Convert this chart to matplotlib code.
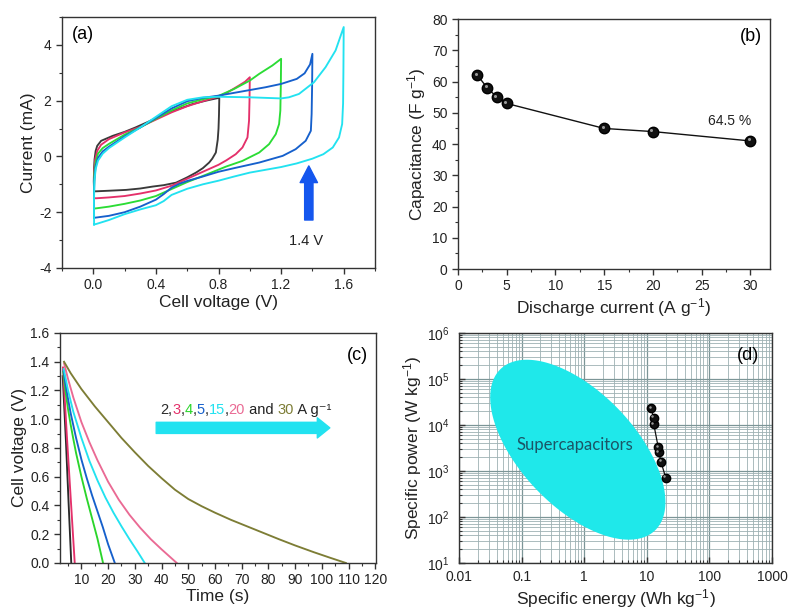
import numpy as np
import matplotlib
matplotlib.use('Agg')
import matplotlib.pyplot as plt
from matplotlib.ticker import MultipleLocator, LogLocator, NullFormatter
from matplotlib.transforms import offset_copy

plt.rcParams['font.family'] = ['Liberation Sans', 'DejaVu Sans']
plt.rcParams['mathtext.fontset'] = 'custom'
plt.rcParams['mathtext.rm'] = 'Liberation Sans'
plt.rcParams['mathtext.it'] = 'Liberation Sans:italic'
plt.rcParams['mathtext.default'] = 'regular'
plt.rcParams['axes.unicode_minus'] = False

# ---- (a) CV loops, one per voltage window ----
cv08_v = [0.005, 0.003, 0.005, 0.008, 0.015, 0.025, 0.05, 0.125, 0.2, 0.27, 0.35, 0.42, 0.486, 0.56, 0.635, 0.72, 0.794, 0.805,
          0.803, 0.8, 0.795, 0.783, 0.76, 0.74, 0.70, 0.656, 0.6, 0.529, 0.45, 0.38, 0.3, 0.21, 0.1, 0.02, 0.005]
cv08_i = [-1.25, -0.9, -0.4, -0.1, 0.2, 0.38, 0.56, 0.74, 0.88, 1.04, 1.24, 1.42, 1.58, 1.73, 1.88, 2.0, 2.09, 2.09,
          1.5, 1.0, 0.6, 0.14, -0.08, -0.22, -0.42, -0.58, -0.75, -0.94, -1.03, -1.08, -1.15, -1.2, -1.23, -1.25, -1.25]

cv10_v = [0.005, 0.004, 0.006, 0.012, 0.025, 0.05, 0.1, 0.2, 0.3, 0.4, 0.5, 0.6, 0.7, 0.8, 0.85, 0.93, 0.97, 1.0,
          0.998, 0.995, 0.985, 0.953, 0.91, 0.85, 0.8, 0.7, 0.6, 0.5, 0.4, 0.3, 0.2, 0.1, 0.02, 0.005]
cv10_i = [-1.5, -1.0, -0.5, -0.1, 0.2, 0.42, 0.62, 0.86, 1.06, 1.32, 1.58, 1.8, 1.98, 2.15, 2.27, 2.54, 2.68, 2.84,
          2.0, 1.28, 0.68, 0.32, 0.08, -0.14, -0.3, -0.55, -0.8, -1.05, -1.22, -1.33, -1.42, -1.47, -1.5, -1.5]

cv12_v = [0.005, 0.004, 0.007, 0.015, 0.03, 0.06, 0.1, 0.2, 0.3, 0.4, 0.5, 0.6, 0.7, 0.8, 0.9, 1.0, 1.06, 1.144, 1.2,
          1.198, 1.195, 1.187, 1.166, 1.123, 1.06, 0.953, 0.85, 0.7, 0.6, 0.5, 0.4, 0.3, 0.2, 0.1, 0.02, 0.005]
cv12_i = [-1.87, -1.2, -0.6, -0.2, 0.1, 0.3, 0.45, 0.78, 1.04, 1.35, 1.65, 1.9, 2.05, 2.17, 2.42, 2.72, 2.96, 3.26, 3.5,
          2.5, 1.64, 1.16, 0.8, 0.44, 0.14, -0.16, -0.36, -0.7, -0.92, -1.17, -1.42, -1.58, -1.7, -1.8, -1.86, -1.87]

cv14_v = [0.005, 0.004, 0.007, 0.015, 0.03, 0.06, 0.1, 0.2, 0.3, 0.4, 0.5, 0.6, 0.7, 0.8, 0.9, 1.0, 1.1, 1.2, 1.3, 1.35, 1.385, 1.4,
          1.398, 1.395, 1.39, 1.357, 1.293, 1.21, 1.06, 0.9, 0.8, 0.7, 0.6, 0.55, 0.5, 0.45, 0.4, 0.3, 0.2, 0.1, 0.02, 0.005]
cv14_i = [-2.2, -1.5, -0.8, -0.35, -0.05, 0.18, 0.35, 0.72, 1.04, 1.38, 1.72, 1.98, 2.1, 2.18, 2.28, 2.38, 2.48, 2.6, 2.78, 2.98, 3.3, 3.68,
          2.5, 1.52, 0.92, 0.56, 0.26, 0.02, -0.22, -0.42, -0.55, -0.72, -0.88, -0.98, -1.12, -1.35, -1.55, -1.8, -2.0, -2.13, -2.19, -2.2]

cv16_v = [0.005, 0.004, 0.007, 0.015, 0.03, 0.06, 0.1, 0.2, 0.3, 0.4, 0.5, 0.6, 0.7, 0.8, 0.9, 1.0, 1.1, 1.2, 1.25, 1.314, 1.41, 1.484, 1.548, 1.6,
          1.598, 1.596, 1.59, 1.57, 1.53, 1.47, 1.4, 1.3, 1.2, 1.0, 0.9, 0.8, 0.7, 0.6, 0.5, 0.45, 0.4, 0.3, 0.2, 0.1, 0.02, 0.005]
cv16_i = [-2.44, -1.6, -0.9, -0.45, -0.15, 0.1, 0.3, 0.68, 1.04, 1.42, 1.8, 2.03, 2.12, 2.14, 2.13, 2.12, 2.1, 2.08, 2.12, 2.24, 2.66, 3.2, 3.8, 4.64,
          3.0, 1.9, 1.16, 0.68, 0.32, 0.08, -0.08, -0.25, -0.38, -0.58, -0.72, -0.87, -1.0, -1.16, -1.38, -1.6, -1.75, -1.9, -2.07, -2.28, -2.42, -2.44]

cv_colors = ['#3a3a3a', '#e4306a', '#2bdc35', '#1660cc', '#22e2f0']

# ---- (b) rate capability ----
current = [2, 3, 4, 5, 15, 20, 30]
capacitance = [62, 58, 55, 53, 45, 44, 41]

# ---- (c) galvanostatic discharge ----
t_2 = [3.0, 4.2, 5.2, 6.2]
v_2 = [1.30, 0.85, 0.42, 0.0]
t_3 = [3.1, 4.5, 6.0, 7.5]
v_3 = [1.36, 0.90, 0.45, 0.0]
t_4 = [3.2, 4, 5, 6, 7, 8, 10, 12, 14, 16, 18.1]
v_4 = [1.33, 1.2, 1.07, 0.96, 0.86, 0.765, 0.6, 0.45, 0.31, 0.17, 0.0]
t_5 = [3.3, 4, 5, 6, 8, 10, 12, 14, 16, 18, 20, 22.5]
v_5 = [1.34, 1.25, 1.14, 1.04, 0.87, 0.72, 0.59, 0.47, 0.36, 0.25, 0.13, 0.0]
t_15 = [3.4, 5, 7, 10, 13, 16, 19, 22, 25, 28, 31, 33.7]
v_15 = [1.35, 1.2, 1.05, 0.87, 0.71, 0.575, 0.455, 0.35, 0.255, 0.165, 0.08, 0.0]
t_20 = [3.5, 5, 7, 10, 13, 16, 20, 24, 28, 32, 36, 40, 43, 45.7]
v_20 = [1.39, 1.28, 1.15, 0.98, 0.84, 0.715, 0.565, 0.44, 0.335, 0.245, 0.165, 0.095, 0.045, 0.0]
t_30 = [3.5, 6, 10, 15, 20, 25, 30, 35, 40, 45, 50, 55, 60, 66, 72, 78, 84, 90, 97, 103, 109]
v_30 = [1.40, 1.32, 1.21, 1.09, 0.98, 0.87, 0.77, 0.675, 0.59, 0.51, 0.445, 0.395, 0.35, 0.30, 0.255, 0.21,
        0.165, 0.122, 0.075, 0.037, 0.0]
gcd_colors = ['#2b2b2b', '#e4306a', '#2bd52b', '#1660cc', '#22e2f0', '#ea6a94', '#7d7d35']
rate_labels = ['2', '3', '4', '5', '15', '20']

# ---- (d) Ragone ----
energy = [20.0, 16.8, 15.5, 15.2, 12.9, 12.8, 11.7]
power = [720, 1600, 2600, 3300, 10500, 14500, 23000]
ellipse_center = (0.79, 2900)       # Wh/kg, W/kg
ellipse_semi_px = (111.7, 57.4)     # semi-axes in pixels
ellipse_angle = -46.3               # degrees in display space
energy_ticks = [0.01, 0.1, 1, 10, 100, 1000]
energy_labels = ['0.01', '0.1', '1', '10', '100', '1000']

FIG_W, FIG_H = 7.91, 6.11
fig = plt.figure(figsize=(FIG_W, FIG_H), dpi=100)

TICK = 10
LABEL = 12.5
PANEL = 13


def style_axis(ax, direction='out'):
    for s in ax.spines.values():
        s.set_color('#333333')
        s.set_linewidth(1.0)
    ax.tick_params(which='both', direction=direction, top=False, right=False,
                   colors='#333333', labelcolor='#222222', labelsize=TICK)
    ax.tick_params(which='major', length=4, width=1)
    ax.tick_params(which='minor', length=2.5, width=0.8)


# (a)
ax_a = fig.add_axes([0.0784, 0.5614, 0.3957, 0.4108])
for v, i, c in zip([cv08_v, cv10_v, cv12_v, cv14_v, cv16_v],
                   [cv08_i, cv10_i, cv12_i, cv14_i, cv16_i], cv_colors):
    ax_a.plot(v, i, color=c, lw=1.35)
ax_a.set_xlim(-0.2, 1.8)
ax_a.set_ylim(-4, 5)
ax_a.xaxis.set_major_locator(MultipleLocator(0.4))
ax_a.xaxis.set_minor_locator(MultipleLocator(0.2))
ax_a.yaxis.set_minor_locator(MultipleLocator(1))
ax_a.xaxis.set_major_formatter(lambda x, p: f'{x:.1f}')
ax_a.set_yticks([-4, -2, 0, 2, 4])
style_axis(ax_a)
ax_a.set_xlabel('Cell voltage (V)', fontsize=LABEL, color='#222222', labelpad=2)
ax_a.set_ylabel('Current (mA)', fontsize=LABEL, color='#222222', labelpad=2)
ax_a.text(0.03, 0.965, '(a)', transform=ax_a.transAxes, fontsize=PANEL, va='top', ha='left')
ax_a.annotate('', xy=(1.377, -0.34), xytext=(1.377, -2.28),
              arrowprops=dict(arrowstyle='simple,head_length=1.2,head_width=1.25,tail_width=0.6',
                              mutation_scale=10, color='#1456ee', shrinkA=0, shrinkB=0))
ax_a.text(1.36, -3.03, '1.4 V', fontsize=10.5, ha='center', va='center', color='#222222')

# (b)
ax_b = fig.add_axes([0.579, 0.5597, 0.3944, 0.409])
ax_b.plot(current, capacitance, color='#111111', lw=1.0, marker='o', ms=7.5,
          mfc='#111111', mec='#000000')
hl_b = offset_copy(ax_b.transData, fig=fig, x=-1.2, y=1.2, units='points')
ax_b.plot(current, capacitance, ls='none', marker='o', ms=2.2, mfc='#9a9a9a', mec='none', transform=hl_b)
ax_b.set_xlim(0, 32)
ax_b.set_ylim(0, 80)
ax_b.xaxis.set_major_locator(MultipleLocator(5))
ax_b.xaxis.set_minor_locator(MultipleLocator(2.5))
ax_b.yaxis.set_major_locator(MultipleLocator(10))
ax_b.yaxis.set_minor_locator(MultipleLocator(5))
style_axis(ax_b)
ax_b.set_xlabel('Discharge current (A g$^{-1}$)', fontsize=LABEL, color='#222222', labelpad=2)
ax_b.set_ylabel('Capacitance (F g$^{-1}$)', fontsize=LABEL, color='#222222', labelpad=3)
ax_b.text(0.975, 0.965, '(b)', transform=ax_b.transAxes, fontsize=PANEL, va='top', ha='right')
ax_b.text(25.6, 47.5, '64.5 %', fontsize=10, ha='left', va='center', color='#222222')

# (c)
ax_c = fig.add_axes([0.0759, 0.0786, 0.3995, 0.3764])
for t, v, c in zip([t_2, t_3, t_4, t_5, t_15, t_20, t_30],
                   [v_2, v_3, v_4, v_5, v_15, v_20, v_30], gcd_colors):
    ax_c.plot(t, v, color=c, lw=1.35)
ax_c.set_xlim(2, 120.3)
ax_c.set_ylim(0, 1.6)
ax_c.set_xticks(np.arange(10, 121, 10))
ax_c.xaxis.set_minor_locator(MultipleLocator(5))
ax_c.yaxis.set_major_locator(MultipleLocator(0.2))
ax_c.yaxis.set_minor_locator(MultipleLocator(0.1))
ax_c.yaxis.set_major_formatter(lambda y, p: f'{y:.1f}')
style_axis(ax_c)
ax_c.set_xlabel('Time (s)', fontsize=LABEL, color='#222222', labelpad=1)
ax_c.set_ylabel('Cell voltage (V)', fontsize=LABEL, color='#222222', labelpad=2)
ax_c.text(0.975, 0.94, '(c)', transform=ax_c.transAxes, fontsize=PANEL, va='top', ha='right')

# multicoloured rate label, pieces chained one after another
pieces = []
for k, lab in enumerate(rate_labels):
    pieces.append((lab, gcd_colors[k]))
    if k < len(rate_labels) - 1:
        pieces.append((',', '#222222'))
pieces += [(' and ', '#222222'), ('30', gcd_colors[6]), (' A g\u207b\u00b9', '#222222')]
prev = ax_c.text(39.4, 1.015, pieces[0][0], color=pieces[0][1], fontsize=10.5, ha='left', va='bottom')
for txt, col in pieces[1:]:
    prev = ax_c.annotate(txt, xy=(1, 0), xycoords=prev, ha='left', va='bottom',
                         color=col, fontsize=10.5)
ax_c.annotate('', xy=(103, 0.94), xytext=(38, 0.94),
              arrowprops=dict(arrowstyle='simple,head_length=0.9,head_width=1.45,tail_width=0.8',
                              mutation_scale=10, color='#22e2f0', shrinkA=0, shrinkB=0))

# (d)
ax_d = fig.add_axes([0.5803, 0.0786, 0.3957, 0.3764])
ax_d.set_xscale('log')
ax_d.set_yscale('log')
ax_d.set_xlim(0.01, 1000)
ax_d.set_ylim(10, 1e6)
ax_d.set_axisbelow(True)
ax_d.grid(which='major', color='#7c9597', lw=0.9)
ax_d.grid(which='minor', color='#9db1b3', lw=0.6)
ax_d.xaxis.set_minor_locator(LogLocator(base=10, subs=np.arange(2, 10)))
ax_d.yaxis.set_minor_locator(LogLocator(base=10, subs=np.arange(2, 10)))
ax_d.xaxis.set_minor_formatter(NullFormatter())
ax_d.yaxis.set_minor_formatter(NullFormatter())
ax_d.set_xticks(energy_ticks, energy_labels)

# ellipse built in display space, mapped back to log data
ax_w = FIG_W * 100 * 0.3957
ax_h = FIG_H * 100 * 0.3764
px_dec_x = ax_w / 5.0
px_dec_y = ax_h / 5.0
th = np.deg2rad(ellipse_angle)
s = np.linspace(0, 2 * np.pi, 200)
ea, eb = ellipse_semi_px
lx = np.log10(ellipse_center[0]) + (ea * np.cos(s) * np.cos(th) - eb * np.sin(s) * np.sin(th)) / px_dec_x
ly = np.log10(ellipse_center[1]) + (ea * np.cos(s) * np.sin(th) + eb * np.sin(s) * np.cos(th)) / px_dec_y
ax_d.fill(10 ** lx, 10 ** ly, color='#1fe8ea', lw=0, zorder=2)
ax_d.text(0.37, 0.513, 'Supercapacitors', transform=ax_d.transAxes, fontsize=12,
          family=['Lato', 'DejaVu Sans'], color='#1b5566', ha='center', va='center', zorder=3)

ax_d.plot(energy, power, color='#111111', lw=0.9, marker='o', ms=6, mfc='#111111', mec='#000000', zorder=4)
hl_d = offset_copy(ax_d.transData, fig=fig, x=-1.0, y=1.0, units='points')
ax_d.plot(energy, power, ls='none', marker='o', ms=1.8, mfc='#9a9a9a', mec='none', transform=hl_d, zorder=5)
style_axis(ax_d, direction='in')
ax_d.tick_params(axis='y', pad=7)
ax_d.tick_params(axis='x', pad=5)
ax_d.set_xlabel('Specific energy (Wh kg$^{-1}$)', fontsize=LABEL, color='#222222', labelpad=2)
ax_d.set_ylabel('Specific power (W kg$^{-1}$)', fontsize=LABEL, color='#222222', labelpad=2)
ax_d.text(0.96, 0.94, '(d)', transform=ax_d.transAxes, fontsize=PANEL, va='top', ha='right', zorder=6)

fig.savefig('out.png', dpi=100)
